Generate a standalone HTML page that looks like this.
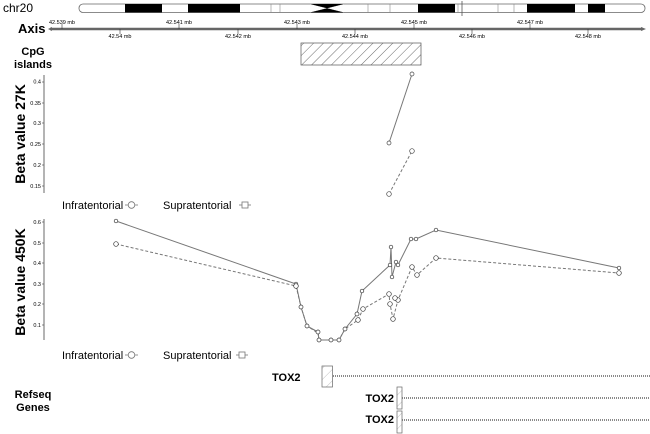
<!DOCTYPE html>
<html><head><meta charset="utf-8"><style>
html,body{margin:0;padding:0;background:#fff;}
svg{display:block;font-family:"Liberation Sans",Arial,sans-serif;}
.b{font-weight:bold;}
.t{font-size:5.5px;}
</style></head><body>
<svg width="650" height="434" viewBox="0 0 650 434" xmlns="http://www.w3.org/2000/svg">
<defs>
<pattern id="h" width="7" height="7" patternUnits="userSpaceOnUse" patternTransform="rotate(45)">
<line x1="0" y1="0" x2="0" y2="7" stroke="#444" stroke-width="0.8"/></pattern>
<pattern id="h2" width="8" height="8" patternUnits="userSpaceOnUse" patternTransform="rotate(45)">
<rect width="8" height="8" fill="#fff"/>
<line x1="0" y1="0" x2="0" y2="8" stroke="#999" stroke-width="0.6"/></pattern>
</defs>
<!-- chromosome -->
<text x="3" y="12" font-size="12">chr20</text>
<rect x="79" y="4" width="566" height="8.5" rx="4" fill="#fff" stroke="#666" stroke-width="0.8"/>
<g fill="#000">
<rect x="125" y="4" width="37" height="8.5"/>
<rect x="188" y="4" width="52" height="8.5"/>
<rect x="418" y="4" width="37" height="8.5"/>
<rect x="527" y="4" width="48" height="8.5"/>
<rect x="588" y="4" width="17" height="8.5"/>
<polygon points="310,4 327,8.2 344,4 344,12.5 327,8.2 310,12.5" fill="#000"/>
</g>
<polygon points="310,4 327,8.2 310,12.5" fill="#fff"/>
<polygon points="344,4 327,8.2 344,12.5" fill="#fff"/>
<polygon points="310,4 344,12.5 344,4 310,12.5" fill="none"/>
<g fill="#000"><polygon points="310,4 327,8.2 344,4"/><polygon points="310,12.5 327,8.2 344,12.5"/></g>
<g stroke="#888" stroke-width="0.6">
<line x1="271" y1="4" x2="271" y2="12.5"/><line x1="280" y1="4" x2="280" y2="12.5"/>
<line x1="368" y1="4" x2="368" y2="12.5"/><line x1="390" y1="4" x2="390" y2="12.5"/>
<line x1="458" y1="4" x2="458" y2="12.5"/><line x1="498" y1="4" x2="498" y2="12.5"/>
<line x1="514" y1="4" x2="514" y2="12.5"/>
</g>
<line x1="462" y1="1" x2="462" y2="16" stroke="#555" stroke-width="0.8"/>
<!-- axis -->
<text x="18" y="33" font-size="13" class="b">Axis</text>
<line x1="50" y1="29" x2="643" y2="29" stroke="#666" stroke-width="2.5"/>
<polygon points="48,29 52,27 52,31" fill="#666"/><polygon points="646,29 641,27 641,31" fill="#666"/>
<g stroke="#333" stroke-width="0.6">
<line x1="62" y1="24" x2="62" y2="29"/><line x1="179" y1="24" x2="179" y2="29"/><line x1="297" y1="24" x2="297" y2="29"/><line x1="414" y1="24" x2="414" y2="29"/><line x1="530" y1="24" x2="530" y2="29"/>
<line x1="120" y1="29" x2="120" y2="34"/><line x1="238" y1="29" x2="238" y2="34"/><line x1="355" y1="29" x2="355" y2="34"/><line x1="472" y1="29" x2="472" y2="34"/><line x1="588" y1="29" x2="588" y2="34"/>
</g>
<g class="t" text-anchor="middle">
<text x="62" y="24">42.539 mb</text><text x="179" y="24">42.541 mb</text><text x="297" y="24">42.543 mb</text><text x="414" y="24">42.545 mb</text><text x="530" y="24">42.547 mb</text>
<text x="120" y="38">42.54 mb</text><text x="238" y="38">42.542 mb</text><text x="355" y="38">42.544 mb</text><text x="472" y="38">42.546 mb</text><text x="588" y="38">42.548 mb</text>
</g>
<!-- CpG -->
<text x="33" y="55" font-size="11" class="b" text-anchor="middle">CpG</text>
<text x="33" y="68" font-size="11" class="b" text-anchor="middle">islands</text>
<rect x="301" y="43" width="120" height="22" fill="url(#h)" stroke="#555" stroke-width="0.7"/>
<!-- 27K -->
<text transform="translate(25,134) rotate(-90)" font-size="14" class="b" text-anchor="middle">Beta value 27K</text>
<line x1="44" y1="75" x2="44" y2="193" stroke="#444" stroke-width="0.8"/>
<g class="t" text-anchor="end" font-size="5">
<text x="41" y="83.5">0.4</text><text x="41" y="105">0.35</text><text x="41" y="125">0.3</text><text x="41" y="146">0.25</text><text x="41" y="167">0.2</text><text x="41" y="188">0.15</text>
</g>
<g stroke="#444" stroke-width="0.6"><line x1="42" y1="82" x2="44" y2="82"/><line x1="42" y1="103" x2="44" y2="103"/><line x1="42" y1="123" x2="44" y2="123"/><line x1="42" y1="144" x2="44" y2="144"/><line x1="42" y1="165" x2="44" y2="165"/><line x1="42" y1="186" x2="44" y2="186"/></g>
<line x1="389" y1="143" x2="412" y2="74" stroke="#777" stroke-width="1"/>
<line x1="389" y1="194" x2="412" y2="151" stroke="#777" stroke-width="1" stroke-dasharray="3,2"/>
<g fill="#fff" stroke="#444" stroke-width="0.7">
<circle cx="389" cy="143" r="2"/><circle cx="412" cy="74" r="2"/><circle cx="389" cy="194" r="2.3"/><circle cx="412" cy="151" r="2.3"/>
</g>
<!-- legends -->
<g font-size="11">
<text x="62" y="209">Infratentorial</text><text x="163" y="209">Supratentorial</text>
<text x="62" y="359">Infratentorial</text><text x="163" y="359">Supratentorial</text>
</g>
<g stroke="#777" fill="#fff" stroke-width="0.8">
<line x1="125" y1="205" x2="138" y2="205"/><circle cx="131.5" cy="205" r="3.3"/>
<line x1="239" y1="205" x2="251" y2="205"/><rect x="242" y="202" width="6" height="6"/>
<line x1="125" y1="355" x2="138" y2="355"/><circle cx="131.5" cy="355" r="3.3"/>
<line x1="236" y1="355" x2="248" y2="355"/><rect x="239" y="352" width="6" height="6"/>
</g>
<!-- 450K -->
<text transform="translate(25,282) rotate(-90)" font-size="14" class="b" text-anchor="middle">Beta value 450K</text>
<line x1="44" y1="219" x2="44" y2="340" stroke="#444" stroke-width="0.8"/>
<g class="t" text-anchor="end" font-size="5">
<text x="41" y="224">0.6</text><text x="41" y="245">0.5</text><text x="41" y="265">0.4</text><text x="41" y="286">0.3</text><text x="41" y="306">0.2</text><text x="41" y="327">0.1</text>
</g>
<g stroke="#444" stroke-width="0.6"><line x1="42" y1="222" x2="44" y2="222"/><line x1="42" y1="243" x2="44" y2="243"/><line x1="42" y1="263" x2="44" y2="263"/><line x1="42" y1="284" x2="44" y2="284"/><line x1="42" y1="304" x2="44" y2="304"/><line x1="42" y1="325" x2="44" y2="325"/></g>
<polyline fill="none" stroke="#777" stroke-width="1" points="116,221 296,284 301,307 307,326 318,332 319,340 331,340 339,340 345,329 357,314 362,291 390,265 391,247 392,277 396,262 398,265 411,239 416,239 436,230 619,268"/>
<polyline fill="none" stroke="#777" stroke-width="1" stroke-dasharray="3,2" points="116,244 296,286 301,307 307,326 318,333 319,340 331,340 339,340 345,329 358,320 363,309 389,294 390,304 393,319 398,300 412,267 417,275 436,258 619,273"/>
<g fill="#fff" stroke="#333" stroke-width="0.7">
<circle cx="116" cy="221" r="1.8"/><circle cx="296" cy="284" r="1.8"/><circle cx="301" cy="307" r="2"/><circle cx="307" cy="326" r="2"/><circle cx="318" cy="332" r="2"/><circle cx="319" cy="340" r="2"/><circle cx="331" cy="340" r="2"/><circle cx="339" cy="340" r="2"/><circle cx="345" cy="329" r="2"/><circle cx="357" cy="314" r="2"/><circle cx="362" cy="291" r="1.8"/><circle cx="390" cy="265" r="1.8"/><circle cx="391" cy="247" r="1.8"/><circle cx="392" cy="277" r="1.8"/><circle cx="396" cy="262" r="1.8"/><circle cx="398" cy="265" r="1.8"/><circle cx="411" cy="239" r="1.8"/><circle cx="416" cy="239" r="1.8"/><circle cx="436" cy="230" r="1.8"/><circle cx="619" cy="268" r="1.8"/>
<circle cx="116" cy="244" r="2.3"/><circle cx="296" cy="286" r="2.3"/><circle cx="358" cy="320" r="2.3"/><circle cx="363" cy="309" r="2.3"/><circle cx="389" cy="294" r="2.3"/><circle cx="390" cy="304" r="2.3"/><circle cx="393" cy="319" r="2.3"/><circle cx="398" cy="300" r="2.3"/><circle cx="395" cy="298" r="2.3"/><circle cx="412" cy="267" r="2.3"/><circle cx="417" cy="275" r="2.3"/><circle cx="436" cy="258" r="2.3"/><circle cx="619" cy="273" r="2.3"/>
</g>
<!-- genes -->
<text x="33" y="398" font-size="11" class="b" text-anchor="middle">Refseq</text>
<text x="33" y="411" font-size="11" class="b" text-anchor="middle">Genes</text>
<g font-size="11" class="b">
<text x="272" y="381">TOX2</text>
<text x="394" y="402" text-anchor="end">TOX2</text>
<text x="394" y="423" text-anchor="end">TOX2</text>
</g>
<g stroke="#444" stroke-width="1.2" stroke-dasharray="1,1">
<line x1="333" y1="376" x2="650" y2="376"/>
<line x1="402" y1="398" x2="650" y2="398"/>
<line x1="402" y1="420" x2="650" y2="420"/>
</g>
<g fill="url(#h2)" stroke="#666" stroke-width="0.7">
<rect x="322" y="366" width="10.5" height="21"/>
<rect x="397" y="387" width="5" height="22"/>
<rect x="397" y="411" width="5" height="22"/>
</g>
</svg>
</body></html>
